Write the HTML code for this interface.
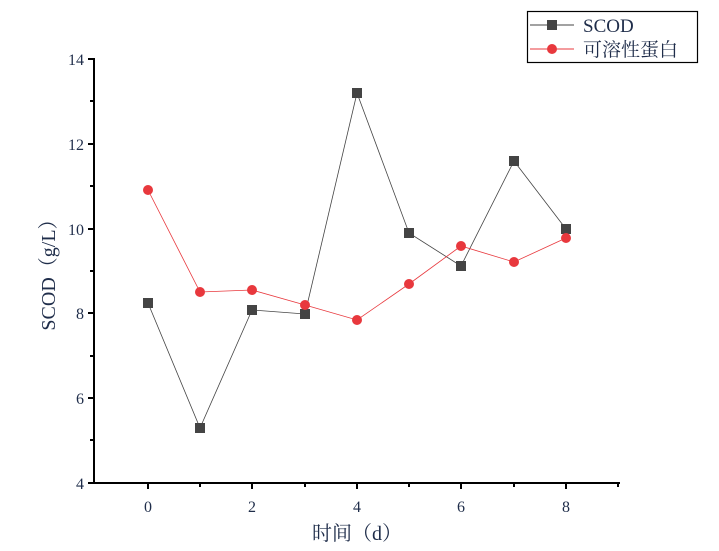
<!DOCTYPE html>
<html><head><meta charset="utf-8"><style>
html,body{margin:0;padding:0;background:#fff;}
svg text{font-family:"Liberation Serif","Noto Serif CJK SC",serif;fill:#1f2d4a;}
</style></head><body>
<svg width="719" height="546" viewBox="0 0 719 546" xmlns="http://www.w3.org/2000/svg">
<g stroke="#000" stroke-width="2" fill="none">
<line x1="94" y1="58" x2="94" y2="483"/>
<line x1="93" y1="483" x2="620" y2="483"/>
</g>
<g stroke="#000" stroke-width="2">
<line x1="88" y1="59" x2="94" y2="59"/><line x1="88" y1="144" x2="94" y2="144"/><line x1="88" y1="229" x2="94" y2="229"/><line x1="88" y1="313" x2="94" y2="313"/><line x1="88" y1="398" x2="94" y2="398"/><line x1="88" y1="483" x2="94" y2="483"/>
<line x1="90" y1="101" x2="94" y2="101"/><line x1="90" y1="186" x2="94" y2="186"/><line x1="90" y1="271" x2="94" y2="271"/><line x1="90" y1="356" x2="94" y2="356"/><line x1="90" y1="440" x2="94" y2="440"/>
<line x1="148" y1="483" x2="148" y2="489"/><line x1="252" y1="483" x2="252" y2="489"/><line x1="357" y1="483" x2="357" y2="489"/><line x1="461" y1="483" x2="461" y2="489"/><line x1="566" y1="483" x2="566" y2="489"/>
<line x1="200" y1="483" x2="200" y2="487"/><line x1="305" y1="483" x2="305" y2="487"/><line x1="409" y1="483" x2="409" y2="487"/><line x1="514" y1="483" x2="514" y2="487"/><line x1="618" y1="483" x2="618" y2="487"/>
</g>
<g font-size="16" text-anchor="end">
<text x="84" y="65">14</text><text x="84" y="150">12</text><text x="84" y="235">10</text><text x="84" y="319">8</text><text x="84" y="404">6</text><text x="84" y="489">4</text>
</g>
<g font-size="16" text-anchor="middle">
<text x="148" y="512">0</text><text x="252" y="512">2</text><text x="357" y="512">4</text><text x="461" y="512">6</text><text x="566" y="512">8</text>
</g>
<text x="357" y="540" font-size="20" text-anchor="middle">时间（d）</text>
<text transform="translate(55,270) rotate(-90)" font-size="20" text-anchor="middle">SCOD（g/L）</text>
<polyline fill="none" stroke="#444" stroke-width="0.8" points="148,303 200,428 252,310 305,314 357,93 409,233 461,266 514,161 566,229"/>
<g fill="#444">
<rect x="143" y="298" width="10" height="10"/><rect x="195" y="423" width="10" height="10"/><rect x="247" y="305" width="10" height="10"/><rect x="300" y="309" width="10" height="10"/><rect x="352" y="88" width="10" height="10"/><rect x="404" y="228" width="10" height="10"/><rect x="456" y="261" width="10" height="10"/><rect x="509" y="156" width="10" height="10"/><rect x="561" y="224" width="10" height="10"/>
</g>
<polyline fill="none" stroke="#e8383d" stroke-width="0.8" points="148,190 200,292 252,290 305,305 357,320 409,284 461,246 514,262 566,238"/>
<g fill="#e8383d">
<circle cx="148" cy="190" r="5"/><circle cx="200" cy="292" r="5"/><circle cx="252" cy="290" r="5"/><circle cx="305" cy="305" r="5"/><circle cx="357" cy="320" r="5"/><circle cx="409" cy="284" r="5"/><circle cx="461" cy="246" r="5"/><circle cx="514" cy="262" r="5"/><circle cx="566" cy="238" r="5"/>
</g>
<rect x="527.5" y="11.5" width="170" height="51" fill="none" stroke="#000" stroke-width="1.2"/>
<line x1="530" y1="25" x2="574" y2="25" stroke="#444" stroke-width="1"/>
<rect x="547" y="20" width="10" height="10" fill="#444"/>
<line x1="530" y1="49" x2="574" y2="49" stroke="#e8383d" stroke-width="1"/>
<circle cx="552" cy="49" r="5" fill="#e8383d"/>
<text x="583" y="32" font-size="19">SCOD</text>
<text x="583" y="56" font-size="19">可溶性蛋白</text>
</svg>
</body></html>
